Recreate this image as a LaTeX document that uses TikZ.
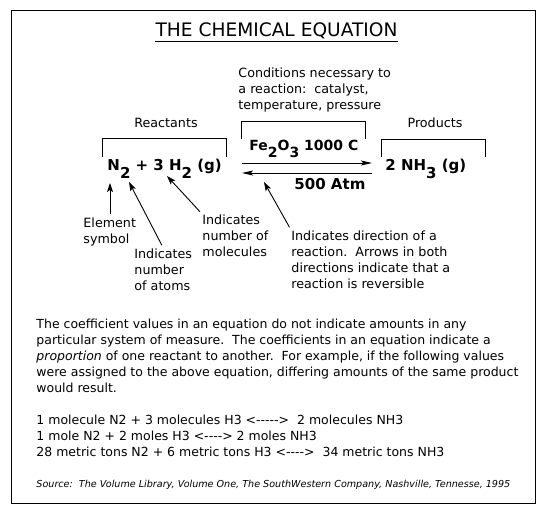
\documentclass[tikz,border=0pt]{standalone}
\usepackage{fontspec}
\setmainfont{DejaVu Sans}
\usetikzlibrary{arrows.meta,positioning}
\newcommand{\dn}[1]{\raisebox{-0.55em}{#1}}
\newcommand{\dsh}{\mbox{-}}

\begin{document}
\begin{tikzpicture}[x=1pt,y=-1pt,line width=0.9pt,
    every node/.style={inner sep=0pt,align=left},
    lbl/.style={font=\fontsize{12.7}{16}\selectfont,anchor=base west},
    txt/.style={font=\fontsize{12.5}{16}\selectfont,anchor=base west},
    eqn/.style={font=\fontsize{15}{18}\selectfont\bfseries,anchor=base west},
    ptr/.style={shorten <=3pt,-{Stealth[length=9pt,width=6pt,inset=2pt]}},
    rxn/.style={-{Stealth[length=11pt,width=5pt,inset=2pt]}}]
  \useasboundingbox (0,0) rectangle (542,514);
  \draw (11,10) rectangle (535,503);
  \node[font=\fontsize{18.6}{22}\selectfont,anchor=base] (title) at (276.5,37) {THE CHEMICAL EQUATION};
  \draw ([yshift=-4pt]title.base west) -- ([yshift=-4pt]title.base east);

  \node[lbl] (cond) at (238,109) {Conditions necessary to\\a reaction:\ \ catalyst,\\temperature, pressure};
  \node[lbl,anchor=base] (reaclbl) at (166,127) {Reactants};
  \node[lbl,anchor=base] (prodlbl) at (435,127) {Products};
  \draw (102,157) |- (226,138) -- (226,157);
  \draw (241,139) |- (365,121) -- (365,139);
  \draw (381,157) |- (485,139) -- (485,157);

  \node[eqn] (reac) at (107,170) {N\dn{2} + 3 H\dn{2} (g)};
  \node[eqn,font=\fontsize{14}{18}\selectfont\bfseries] (cat) at (249,150) {Fe\dn{2}O\dn{3} 1000 C};
  \node[eqn] (atm) at (294,189) {500 Atm};
  \node[eqn] (prod) at (385,170) {2 NH\dn{3} (g)};
  \coordinate (fwdL) at (242,163);
  \coordinate (fwdR) at (372,163);
  \coordinate (bwdL) at (242,173);
  \coordinate (bwdR) at (372,173);
  \draw[rxn] (fwdL) -- (fwdR);
  \draw[rxn] (bwdR) -- (bwdL);

  \node[lbl] (elem) at (83,243) {Element\\symbol};
  \node[lbl] (atoms) at (134,290) {Indicates\\number\\of atoms};
  \node[lbl] (mols) at (202,256) {Indicates\\number of\\molecules};
  \node[lbl] (dir) at (291,288) {Indicates direction of a\\reaction.\ \ Arrows in both\\directions indicate that a\\reaction is reversible};
  \coordinate (tipN) at (110,183);
  \coordinate (tipSub) at (129,182);
  \coordinate (tipCoef) at (167,176);
  \coordinate (tipDir) at (264,182);
  \draw[ptr] (tipN |- elem.north) -- (tipN);
  \draw[ptr] (atoms.north) -- (tipSub);
  \draw[ptr] (mols.north west) -- (tipCoef);
  \draw[ptr] (dir.north west) -- (tipDir);

  \node[txt] (para) at (36,392) {The coefficient values in an equation do not indicate amounts in any\\particular system of measure.\ \ The coefficients in an equation indicate a\\\textit{proportion} of one reactant to another.\ \ For example, if the following values\\were assigned to the above equation, differing amounts of the same product\\would result.};
  \node[txt] (ratios) at (36,456) {1 molecule N2 + 3 molecules H3 <\dsh\dsh\dsh\dsh\dsh>\ \ 2 molecules NH3\\1 mole N2 + 2 moles H3 <\dsh\dsh\dsh\dsh> 2 moles NH3\\28 metric tons N2 + 6 metric tons H3 <\dsh\dsh\dsh\dsh>\ \ 34 metric tons NH3};
  \node[font=\fontsize{9.6}{12}\selectfont\itshape,anchor=base west] (src) at (36,487) {Source:\ \ The Volume Library, Volume One, The SouthWestern Company, Nashville, Tennesse, 1995};
\end{tikzpicture}
\end{document}
